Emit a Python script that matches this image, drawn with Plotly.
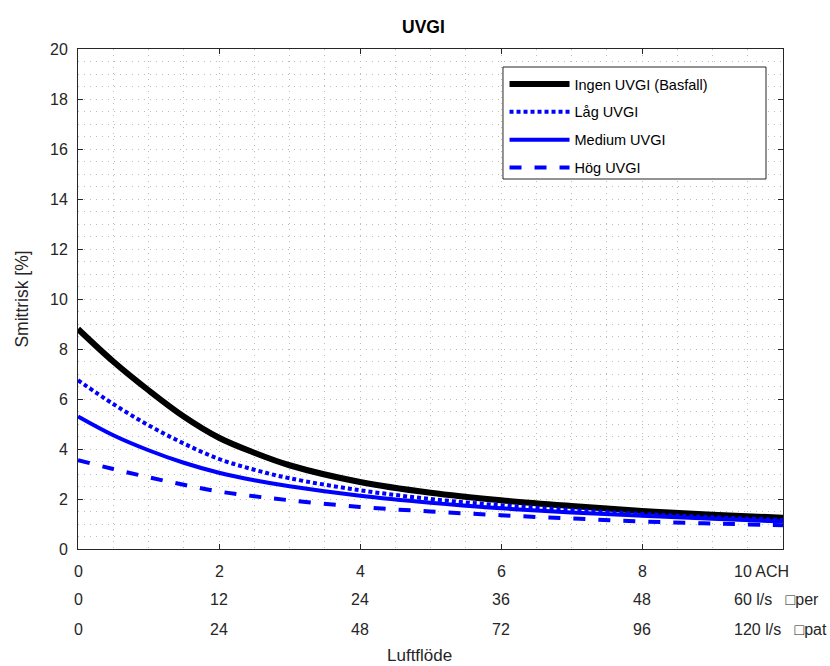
import plotly.graph_objects as go

# ---- data ----
ach = [0, 0.5, 1, 1.5, 2, 2.5, 3, 4, 5, 6, 7, 8, 9, 10]
ingen = [8.8, 7.5, 6.35, 5.3, 4.45, 3.85, 3.35, 2.68, 2.25, 1.95, 1.72, 1.52, 1.37, 1.25]
lag = [6.75, 5.8, 4.95, 4.22, 3.6, 3.17, 2.83, 2.35, 2.0, 1.75, 1.56, 1.4, 1.27, 1.16]
medium = [5.3, 4.55, 3.95, 3.45, 3.05, 2.75, 2.51, 2.13, 1.85, 1.63, 1.46, 1.33, 1.21, 1.1]
hog = [3.55, 3.2, 2.87, 2.57, 2.3, 2.11, 1.95, 1.68, 1.5, 1.35, 1.22, 1.1, 1.02, 0.95]

series_names = ["Ingen UVGI (Basfall)", "Låg UVGI", "Medium UVGI", "Hög UVGI"]

tick_vals = [0, 2, 4, 6, 8, 10]
row_ach = ["0", "2", "4", "6", "8", "10 ACH"]
row_per = ["0", "12", "24", "36", "48", "60 l/s   \u25A1per"]
row_pat = ["0", "24", "48", "72", "96", "120 l/s   \u25A1pat"]

FONT = "Liberation Sans, Arial, sans-serif"
AX = "#262626"
GRID = "#bcbcbc"
GDASH = "1px,5px"

fig = go.Figure()
styles = [
    dict(color="black", width=6, dash="solid"),
    dict(color="#0000ff", width=4, dash="4px,3px"),
    dict(color="#0000ff", width=4, dash="solid"),
    dict(color="#0000ff", width=4, dash="12px,13px"),
]
for i, (name, ys) in enumerate(zip(series_names, [ingen, lag, medium, hog])):
    fig.add_trace(go.Scatter(
        x=ach, y=ys, mode="lines", name=name, line=styles[i],
        line_shape="spline", legendgroup=f"g{i}",
    ))

annotations = []
shifts = [-22, -50, -80]
for row, ys in zip([row_ach, row_per, row_pat], shifts):
    for v, t in zip(tick_vals, row):
        last = v == tick_vals[-1]
        annotations.append(dict(
            x=v, xref="x", y=0, yref="paper", yshift=ys, text=t,
            showarrow=False, xanchor="left" if last else "center",
            xshift=-51 if last else 0, yanchor="middle",
            font=dict(family=FONT, size=16, color=AX),
        ))
annotations.append(dict(
    x=0.485, xref="paper", y=0, yref="paper", yshift=-106, text="Luftflöde",
    showarrow=False, xanchor="center", yanchor="middle",
    font=dict(family=FONT, size=17, color=AX),
))

# legend frame (wider than Plotly's auto-sized box, as in the reference)
legend_frame = dict(
    type="rect", xref="paper", yref="paper",
    x0=0.6028, x1=0.9759, y0=0.74, y1=0.964,
    fillcolor="white", line=dict(color=AX, width=1), layer="above",
)

fig.update_layout(
    width=830, height=666,
    margin=dict(l=78, r=47, t=49, b=117),
    paper_bgcolor="white", plot_bgcolor="white",
    font=dict(family=FONT, size=16, color=AX),
    title=dict(text="<b>UVGI</b>", x=0.49, xref="paper", xanchor="center",
               y=1 - 27 / 666, yref="container", yanchor="middle",
               font=dict(family=FONT, size=17.5, color="black")),
    showlegend=True,
    legend=dict(x=0.605, y=0.962, xanchor="left", yanchor="top",
                bgcolor="rgba(0,0,0,0)", borderwidth=0,
                font=dict(family=FONT, size=14.5, color="black"),
                tracegroupgap=6, itemwidth=60),
    shapes=[legend_frame],
    annotations=annotations,
)
fig.update_xaxes(
    range=[0, 10], tickvals=tick_vals, showticklabels=False,
    ticks="inside", ticklen=5, tickcolor=AX, mirror="ticks",
    showline=True, linecolor=AX, linewidth=1,
    showgrid=True, gridcolor=GRID, griddash=GDASH, gridwidth=1,
    minor=dict(dtick=0.5, showgrid=True, gridcolor=GRID, griddash=GDASH, gridwidth=1),
    zeroline=False,
)
fig.update_yaxes(
    range=[0, 20], dtick=2, ticks="inside", ticklen=5, tickcolor=AX, mirror="ticks",
    showline=True, linecolor=AX, linewidth=1,
    showgrid=True, gridcolor=GRID, griddash=GDASH, gridwidth=1,
    minor=dict(dtick=0.5, showgrid=True, gridcolor=GRID, griddash=GDASH, gridwidth=1),
    zeroline=False, tickfont=dict(family=FONT, size=16, color=AX),
    ticklabelstandoff=6,
    title=dict(text="Smittrisk [%]", font=dict(family=FONT, size=17.5, color=AX), standoff=16),
)

fig.write_html("out.html")
